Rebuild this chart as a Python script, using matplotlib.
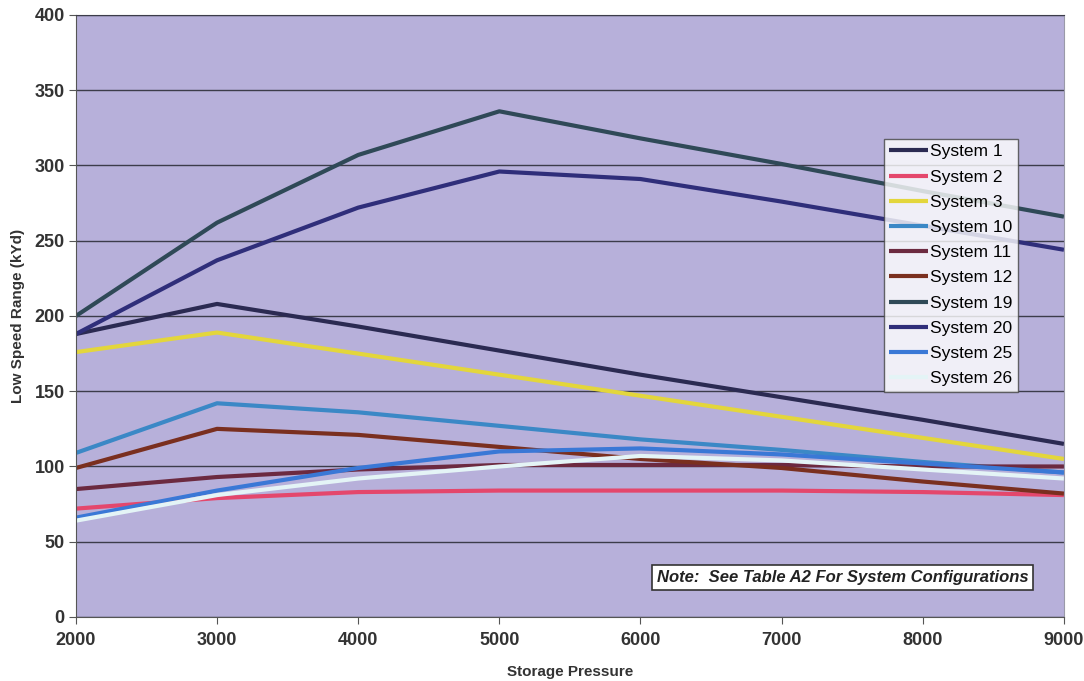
import numpy as np
import matplotlib
matplotlib.use('Agg')
from matplotlib import pyplot as plt

plt.rcParams['font.family'] = ['Liberation Sans', 'DejaVu Sans']

# storage pressure (x) and low speed range (kYd) per system
pressure = [2000, 3000, 4000, 5000, 6000, 7000, 8000, 9000]

sys_1 = [188, 208, 193, 177, 161, 146, 131, 115]
sys_2 = [72, 79, 83, 84, 84, 84, 83, 81]
sys_3 = [176, 189, 175, 161, 147, 133, 119, 105]
sys_10 = [109, 142, 136, 127, 118, 111, 103, 96]
sys_11 = [85, 93, 98, 101, 101, 101, 100, 100]
sys_12 = [99, 125, 121, 113, 105, 99, 90, 82]
sys_19 = [200, 262, 307, 336, 318, 301, 283, 266]
sys_20 = [188, 237, 272, 296, 291, 276, 260, 244]
sys_25 = [66, 84, 99, 110, 112, 108, 102, 96]
sys_26 = [64, 81, 92, 100, 107, 104, 98, 92]

names = ['System 1', 'System 2', 'System 3', 'System 10', 'System 11',
         'System 12', 'System 19', 'System 20', 'System 25', 'System 26']
series = [sys_1, sys_2, sys_3, sys_10, sys_11, sys_12, sys_19, sys_20, sys_25, sys_26]
colors = ['#2b2a52', '#e4476c', '#e3d63c', '#3b88c6', '#6c2a40',
          '#7a2f1f', '#2f4957', '#2f2e7a', '#3a78d6', '#e4f4f6']

fig = plt.figure(figsize=(10.84, 6.81), dpi=100)
fig.patch.set_facecolor('white')
ax = fig.add_axes([0.070, 0.094, 0.9115, 0.884])
ax.set_facecolor('#b7b0da')

for y, name, c in zip(series, names, colors):
    ax.plot(pressure, y, color=c, lw=3.0, label=name, solid_capstyle='butt')

ax.set_xlim(2000, 9000)
ax.set_ylim(0, 400)
ax.set_xticks(pressure)
ax.set_yticks(np.arange(0, 401, 50))
ax.yaxis.grid(True, color='#3c3c4a', lw=1.0)
ax.set_axisbelow(True)

for s in ['left', 'bottom']:
    ax.spines[s].set_color('#555555')
ax.spines['top'].set_color('#3c3c4a')
ax.spines['right'].set_color('#9a9aa8')

ax.tick_params(axis='both', direction='out', length=5, color='#555555',
               labelsize=13, labelcolor='#333333')
ax.tick_params(axis='y', pad=3)
ax.tick_params(axis='x', pad=6)
for lab in ax.get_xticklabels() + ax.get_yticklabels():
    lab.set_fontweight('bold')

ax.set_xlabel('Storage Pressure', fontsize=11, fontweight='bold', color='#333333')
ax.set_ylabel('Low Speed Range (kYd)', fontsize=11, fontweight='bold', color='#333333')
ax.xaxis.set_label_coords(0.5, -0.080)
ax.yaxis.set_label_coords(-0.051, 0.5)

leg = ax.legend(loc='upper left', bbox_to_anchor=(0.818, 0.794), fontsize=12.5,
                frameon=True, fancybox=False, edgecolor='#444444',
                handlelength=2.2, handletextpad=0.15, labelspacing=0.58,
                borderpad=0.3, borderaxespad=0)
leg.get_frame().set_facecolor('white')
leg.get_frame().set_linewidth(1.0)

ax.text(0.776, 0.065, 'Note:  See Table A2 For System Configurations',
        transform=ax.transAxes, ha='center', va='center', fontsize=12,
        fontweight='bold', fontstyle='italic', color='#222222',
        bbox=dict(boxstyle='square,pad=0.3', facecolor='white',
                  edgecolor='#333333', lw=1.2))

fig.savefig('out.png', dpi=100)
